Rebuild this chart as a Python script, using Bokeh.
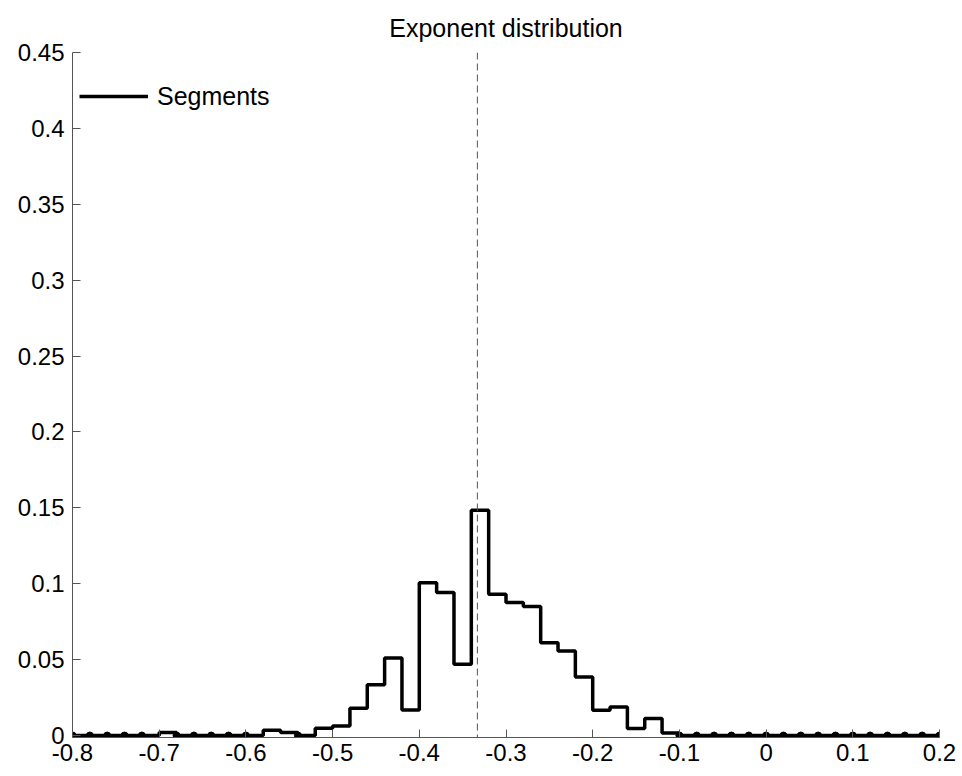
from bokeh.plotting import figure
from bokeh.models import Range1d, FixedTicker, Span, Legend, LegendItem, ColumnDataSource
from bokeh.embed import file_html
from bokeh.resources import INLINE

# ---- data ----
bin_edges = [round(-0.80 + 0.02 * i, 2) for i in range(51)]
segment_freq = [
    0, 0, 0, 0, 0,            # -0.80 .. -0.72
    0.002,                    # -0.70
    0, 0, 0, 0, 0,            # -0.68 .. -0.60
    0.0035, 0.002, 0,         # -0.58, -0.56, -0.54
    0.0048, 0.0062, 0.018,    # -0.52, -0.50, -0.48
    0.0335, 0.051, 0.0168,    # -0.46, -0.44, -0.42
    0.1007, 0.0942, 0.047,    # -0.40, -0.38, -0.36
    0.1485, 0.093, 0.0876,    # -0.34, -0.32, -0.30
    0.085, 0.0612, 0.0557,    # -0.28, -0.26, -0.24
    0.0386, 0.0167, 0.0188,   # -0.22, -0.20, -0.18
    0.0047, 0.0113, 0.0017,   # -0.16, -0.14, -0.12
    0, 0, 0, 0, 0, 0, 0, 0, 0, 0, 0, 0, 0, 0, 0,  # -0.10 .. 0.18
    0,                        # 0.20 (end point)
]
mean_exponent = -0.333
x_ticks = [-0.8, -0.7, -0.6, -0.5, -0.4, -0.3, -0.2, -0.1, 0.0, 0.1, 0.2]
x_tick_labels = ["-0.8", "-0.7", "-0.6", "-0.5", "-0.4", "-0.3", "-0.2", "-0.1", "0", "0.1", "0.2"]
y_ticks = [0.0, 0.05, 0.1, 0.15, 0.2, 0.25, 0.3, 0.35, 0.4, 0.45]
y_tick_labels = ["0", "0.05", "0.1", "0.15", "0.2", "0.25", "0.3", "0.35", "0.4", "0.45"]
title_text = "Exponent distribution"
series_name = "Segments"

FONT = "Liberation Sans"

p = figure(width=962, height=776, output_backend="svg", toolbar_location=None,
           x_range=Range1d(-0.8, 0.2), y_range=Range1d(-0.0013, 0.45),
           min_border_left=72, min_border_right=23, min_border_top=52, min_border_bottom=39)
p.title.text = title_text
p.title.align = "center"
p.title.text_font = FONT
p.title.text_font_size = "25px"
p.title.text_font_style = "normal"
p.title.text_color = "black"
p.title.standoff = 21

p.outline_line_color = None
p.grid.visible = False
p.background_fill_color = "white"
p.border_fill_color = "white"

for ax in (p.xaxis[0], p.yaxis[0]):
    ax.axis_line_color = "#555555"
    ax.axis_line_width = 1
    ax.major_tick_line_color = "#555555"
    ax.major_tick_in = 8
    ax.major_tick_out = 0
    ax.minor_tick_line_color = None
    ax.major_label_text_font = FONT
    ax.major_label_text_font_size = "24px"
    ax.major_label_text_color = "black"
    ax.major_label_standoff = 8

p.xaxis[0].major_label_standoff = 6
p.xaxis[0].ticker = FixedTicker(ticks=x_ticks)
p.yaxis[0].ticker = FixedTicker(ticks=y_ticks)
p.xaxis[0].major_label_overrides = dict(zip(x_ticks, x_tick_labels))
p.yaxis[0].major_label_overrides = dict(zip(y_ticks, y_tick_labels))

p.add_layout(Span(location=mean_exponent, dimension="height", line_color="#555555",
                  line_width=1, line_dash="7 4"))

src = ColumnDataSource(dict(x=bin_edges, y=segment_freq))
step_r = p.step("x", "y", source=src, mode="after", line_color="black", line_width=3.5)

zx = [x for x, y in zip(bin_edges, segment_freq) if y == 0]
zy = [0 for _ in zx]
p.scatter(zx, zy, size=7, color="black")

legend = Legend(items=[LegendItem(label=series_name, renderers=[step_r])],
                location="top_left", margin=7, padding=0, glyph_width=69, glyph_height=74,
                label_standoff=9, label_text_font=FONT, label_text_font_size="25px",
                label_text_color="black",
                border_line_color=None, background_fill_alpha=0)
p.add_layout(legend)

open("out.html", "w").write(file_html(p, INLINE))
